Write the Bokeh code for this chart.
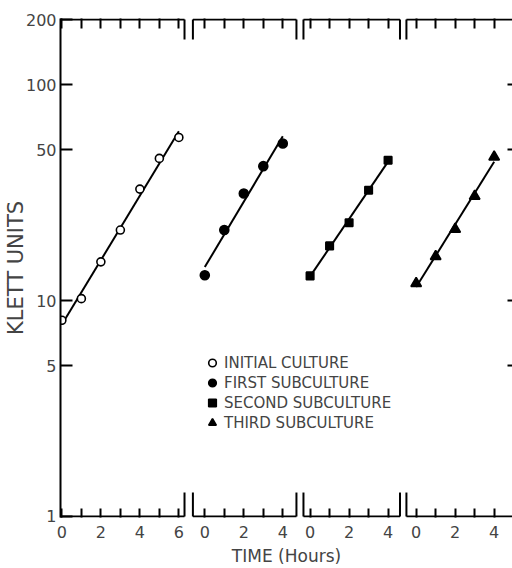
import numpy as np
from bokeh.plotting import figure
from bokeh.models import Range1d, LinearAxis, FixedTicker, BasicTickFormatter, Legend, LegendItem
from bokeh.embed import file_html
from bokeh.resources import INLINE

# ---- data ----
hours_initial = [0, 1, 2, 3, 4, 5, 6]
klett_initial = [8.1, 10.2, 15.1, 21.2, 32.8, 45.5, 56.9]
hours_sub = [0, 1, 2, 3, 4]
klett_first = [13.1, 21.2, 31.3, 41.9, 53.3]
klett_second = [13.0, 17.9, 22.9, 32.4, 44.6]
klett_third = [12.0, 16.0, 21.4, 30.4, 46.2]
series_labels = ["INITIAL CULTURE", "FIRST SUBCULTURE", "SECOND SUBCULTURE", "THIRD SUBCULTURE"]
y_ticks = [1, 5, 10, 50, 100, 200]
right_ticks = [5, 10, 50, 100]

# ---- layout: the four panels share one hour axis, shifted ----
panel_offsets = [0.0, 7.33, 12.73, 18.17]
X0, X1 = -0.07, 23.11
panel_bounds = [(X0, 6.29), (6.72, 12.03), (12.39, 17.34), (17.67, X1)]
Y0, Y1 = 1 / 1.011, 200 * 1.011
W, H = 512, 568
BL, BR, BT, BB = 60, 0, 18, 50
FONT = "DejaVu Sans"
frame_h = H - BT - BB
px_per_decade = frame_h / np.log10(Y1 / Y0)

p = figure(width=W, height=H, x_range=Range1d(X0, X1), y_range=Range1d(Y0, Y1),
           y_axis_type="log", output_backend="svg", toolbar_location=None,
           min_border_left=BL, min_border_right=BR, min_border_top=BT, min_border_bottom=BB,
           outline_line_color=None, background_fill_color="white")
p.grid.visible = False

# ---- series ----
hours_list = [hours_initial, hours_sub, hours_sub, hours_sub]
values_list = [klett_initial, klett_first, klett_second, klett_third]
styles = [("circle", "white", 8), ("circle", "black", 9), ("square", "black", 7.5), ("triangle", "black", 10.5)]
items = []
for off, hrs, vals, (mk, fc, sz), lab in zip(panel_offsets, hours_list, values_list, styles, series_labels):
    xs = np.array(hrs, dtype=float) + off
    slope, icpt = np.polyfit(hrs, np.log10(vals), 1)
    hx = np.array([hrs[0], hrs[-1]], dtype=float)
    p.line(hx + off, 10 ** (icpt + slope * hx), line_color="black", line_width=2)
    r = p.scatter(xs, vals, marker=mk, size=sz, fill_color=fc, line_color="black", line_width=1.6)
    items.append(LegendItem(label=lab, renderers=[r]))

# ---- broken frame ----
bx0 = [b[0] for b in panel_bounds]
bx1 = [b[1] for b in panel_bounds]
p.segment(x0=bx0, y0=[y_ticks[0]] * 4, x1=bx1, y1=[y_ticks[0]] * 4, line_color="black", line_width=2)
p.segment(x0=bx0, y0=[y_ticks[-1]] * 4, x1=bx1, y1=[y_ticks[-1]] * 4, line_color="black", line_width=2)
fb = 10 ** (24 / px_per_decade)
ft = 10 ** (20 / px_per_decade)
brk = bx1[:3] + bx0[1:]
p.segment(x0=brk, y0=[y_ticks[0]] * 6, x1=brk, y1=[y_ticks[0] * fb] * 6, line_color="black", line_width=2)
p.segment(x0=brk, y0=[y_ticks[-1]] * 6, x1=brk, y1=[y_ticks[-1] / ft] * 6, line_color="black", line_width=2)

# right-hand ticks (frame edge is cut off)
p.scatter([X1] * len(right_ticks), right_ticks, marker="dash", size=10, line_color="black", line_width=2)

# ---- x axes ----
major_pos, minor_pos, tick_lab = [], [], {}
for off, hrs in zip(panel_offsets, hours_list):
    for h in hrs:
        pos = round(off + h, 3)
        if h % 2 == 0:
            major_pos.append(pos)
            tick_lab[pos] = str(h)
        else:
            minor_pos.append(pos)

xa = p.xaxis[0]
xa.ticker = FixedTicker(ticks=major_pos, minor_ticks=minor_pos)
xa.major_label_overrides = tick_lab
xa.axis_line_alpha = 0
xa.major_tick_in = 9
xa.major_tick_out = 0
xa.major_tick_line_width = 2
xa.minor_tick_in = 9
xa.minor_tick_out = 0
xa.minor_tick_line_width = 2
xa.major_label_text_font = FONT
xa.major_label_text_font_size = "16px"
xa.major_label_standoff = 8
xa.axis_label = "TIME (Hours)"
xa.axis_label_text_font = FONT
xa.axis_label_text_font_size = "17px"
xa.axis_label_text_font_style = "normal"
xa.axis_label_standoff = 5

top = LinearAxis(ticker=FixedTicker(ticks=[], minor_ticks=major_pos + minor_pos), axis_line_alpha=0,
                 major_tick_in=0, major_tick_out=0, minor_tick_in=10, minor_tick_out=0,
                 minor_tick_line_width=2, major_label_standoff=0)
p.add_layout(top, "above")

# ---- y axis ----
ya = p.yaxis[0]
ya.ticker = FixedTicker(ticks=y_ticks)
ya.formatter = BasicTickFormatter()
ya.axis_line_width = 2
ya.major_tick_in = 12
ya.major_tick_out = 0
ya.major_tick_line_width = 2
ya.minor_tick_line_color = None
ya.major_label_text_font = FONT
ya.major_label_text_font_size = "16px"
ya.major_label_standoff = 4
ya.axis_label = "KLETT UNITS"
ya.axis_label_text_font = FONT
ya.axis_label_text_font_size = "21px"
ya.axis_label_text_font_style = "normal"
ya.axis_label_standoff = -5

# ---- legend ----
legend = Legend(items=items, location=(142, 85), background_fill_alpha=0, border_line_alpha=0,
                label_text_font=FONT, label_text_font_size="15px", glyph_width=20, glyph_height=19,
                label_height=19, spacing=1, padding=0, margin=0, label_standoff=2)
p.add_layout(legend)

open("out.html", "w").write(file_html(p, INLINE))
